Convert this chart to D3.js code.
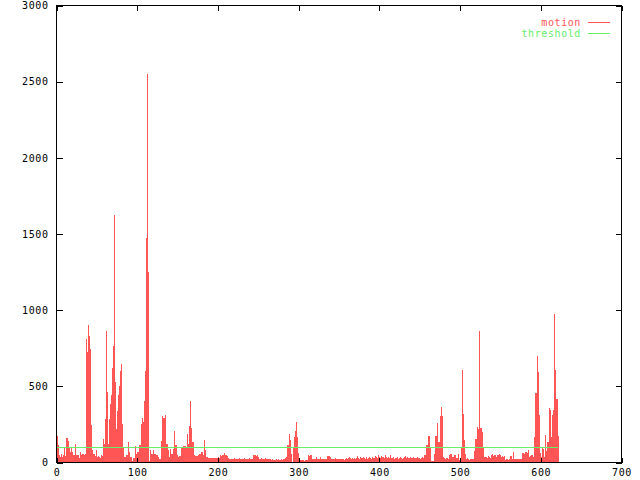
<!DOCTYPE html>
<html>
<head>
<meta charset="utf-8">
<script src="https://cdn.jsdelivr.net/npm/d3@7"></script>
<style>
  body { margin: 0; background: #fff; }
  text { font-family: "DejaVu Sans Mono", monospace; font-size: 10px; letter-spacing: 0.6px; }
</style>
</head>
<body>
<div class="container"></div>
<script>
// motion value per frame (index = frame number)
let motion = [
  175, 172, 112, 48, 36, 57, 40, 35, 46, 105,
  35, 40, 158, 158, 140, 79, 100, 68, 94, 68,
  31, 46, 46, 123, 46, 46, 40, 46, 31, 68,
  46, 46, 57, 57, 52, 57, 571, 808, 725, 900,
  828, 747, 434, 243, 79, 57, 57, 45, 45, 79,
  35, 35, 40, 35, 30, 50, 45, 151, 123, 123,
  287, 863, 466, 190, 123, 287, 385, 445, 445, 620,
  762, 1628, 528, 396, 221, 341, 440, 505, 505, 600,
  644, 254, 105, 35, 35, 35, 46, 46, 68, 134,
  68, 35, 35, 13, 13, 30, 30, 107, 57, 57,
  68, 68, 118, 118, 118, 254, 293, 265, 403, 403,
  600, 1477, 2548, 1250, 13, 13, 79, 57, 57, 79,
  79, 57, 57, 46, 46, 35, 35, 24, 24, 79,
  138, 302, 293, 293, 309, 177, 123, 123, 79, 35,
  35, 90, 57, 57, 90, 210, 171, 112, 112, 46,
  35, 35, 40, 40, 100, 100, 57, 107, 107, 107,
  105, 105, 184, 123, 237, 237, 407, 228, 134, 134,
  46, 40, 40, 40, 40, 46, 46, 57, 57, 68,
  68, 46, 46, 145, 79, 35, 35, 30, 31, 28,
  31, 30, 31, 28, 30, 31, 30, 28, 31, 30,
  35, 31, 40, 46, 40, 52, 46, 57, 61, 52,
  46, 40, 28, 24, 26, 24, 24, 26, 22, 24,
  28, 24, 26, 24, 22, 24, 30, 26, 24, 22,
  26, 24, 28, 24, 22, 26, 24, 24, 28, 26,
  22, 24, 26, 24, 46, 52, 50, 40, 52, 46,
  35, 26, 24, 28, 26, 22, 26, 24, 28, 24,
  26, 22, 24, 26, 24, 17, 15, 20, 17, 13,
  18, 17, 20, 15, 17, 22, 17, 15, 20, 17,
  18, 22, 24, 30, 35, 35, 112, 112, 188, 145,
  57, 5, 5, 100, 166, 166, 210, 263, 166, 61,
  31, 31, 18, 15, 15, 18, 15, 13, 15, 18,
  15, 46, 46, 40, 46, 46, 24, 24, 26, 22,
  24, 35, 24, 24, 26, 24, 35, 35, 22, 20,
  22, 24, 26, 22, 24, 40, 40, 40, 40, 35,
  24, 24, 26, 22, 24, 28, 24, 20, 26, 24,
  22, 24, 18, 22, 26, 20, 17, 24, 22, 28,
  24, 28, 26, 35, 28, 24, 28, 22, 28, 26,
  24, 28, 40, 26, 28, 24, 35, 28, 22, 28,
  35, 30, 26, 35, 28, 24, 30, 35, 26, 30,
  24, 35, 28, 30, 40, 30, 35, 28, 46, 30,
  35, 30, 40, 35, 28, 35, 30, 52, 35, 30,
  28, 35, 30, 50, 28, 24, 30, 35, 24, 28,
  24, 30, 35, 24, 30, 28, 35, 30, 24, 28,
  35, 30, 40, 28, 35, 30, 24, 28, 35, 30,
  24, 28, 35, 30, 28, 24, 30, 35, 28, 30,
  24, 30, 28, 35, 30, 52, 52, 35, 118, 118,
  177, 177, 96, 96, 13, 13, 13, 13, 57, 171,
  171, 258, 96, 134, 134, 302, 363, 302, 302, 35,
  28, 24, 28, 30, 28, 24, 46, 46, 57, 57,
  35, 35, 52, 52, 46, 31, 31, 57, 57, 18,
  18, 105, 342, 609, 320, 145, 57, 24, 28, 22,
  24, 18, 22, 24, 18, 20, 24, 74, 151, 151,
  151, 232, 221, 528, 861, 228, 228, 199, 105, 105,
  39, 39, 35, 30, 35, 40, 35, 30, 52, 46,
  57, 40, 52, 46, 35, 35, 52, 46, 57, 52,
  40, 35, 40, 35, 40, 22, 18, 22, 20, 15,
  22, 18, 40, 40, 22, 68, 22, 20, 24, 22,
  25, 20, 22, 24, 22, 20, 22, 61, 61, 57,
  61, 66, 66, 61, 83, 35, 35, 40, 50, 50,
  35, 35, 166, 455, 455, 696, 591, 315, 315, 61,
  35, 105, 88, 88, 35, 180, 74, 35, 136, 136,
  355, 342, 166, 166, 315, 342, 972, 604, 420, 420,
  420, 177
]
let threshold = 100

let xTicks = [0, 100, 200, 300, 400, 500, 600, 700]
let yTicks = [0, 500, 1000, 1500, 2000, 2500, 3000]

let seriesNames = ['motion', 'threshold']
let seriesColors = ['#ff5555', '#66ee66']

let width = 640, height = 480
let plotLeft = 56.5, plotRight = 621.5, plotTop = 5.5, plotBottom = 462.5

let svg = d3.select('.container')
    .append('svg')
    .attr('width', width)
    .attr('height', height)

let x = d3.scaleLinear().domain([0, 700]).range([plotLeft, plotRight])
let y = d3.scaleLinear().domain([0, 3000]).range([plotBottom, plotTop])

// impulses
svg.append('g')
    .selectAll('line')
    .data(motion)
    .enter().append('line')
    .attr('x1', (d, i) => Math.round(x(i)) + 0.5)
    .attr('x2', (d, i) => Math.round(x(i)) + 0.5)
    .attr('y1', y(0))
    .attr('y2', (d) => y(d))
    .attr('stroke', seriesColors[0])
    .attr('stroke-width', 1)
    .attr('shape-rendering', 'crispEdges')

// threshold line
svg.append('line')
    .attr('x1', x(0))
    .attr('x2', x(motion.length - 1))
    .attr('y1', Math.round(y(threshold)) + 0.5)
    .attr('y2', Math.round(y(threshold)) + 0.5)
    .attr('stroke', seriesColors[1])
    .attr('stroke-width', 1)
    .attr('shape-rendering', 'crispEdges')

// border
svg.append('rect')
    .attr('x', plotLeft)
    .attr('y', plotTop)
    .attr('width', plotRight - plotLeft)
    .attr('height', plotBottom - plotTop)
    .attr('fill', 'none')
    .attr('stroke', 'black')
    .attr('shape-rendering', 'crispEdges')

// axes, ticks drawn inward and mirrored like gnuplot
let fmt = d3.format('d')
svg.append('g')
    .attr('transform', `translate(0,${plotBottom})`)
    .call(d3.axisBottom(x).tickValues(xTicks).tickFormat(fmt).tickSizeInner(-5).tickSizeOuter(0).tickPadding(6))
svg.append('g')
    .attr('transform', `translate(0,${plotTop})`)
    .call(d3.axisTop(x).tickValues(xTicks).tickSizeInner(-5).tickSizeOuter(0).tickFormat(''))
svg.append('g')
    .attr('transform', `translate(${plotLeft},0)`)
    .call(d3.axisLeft(y).tickValues(yTicks).tickFormat(fmt).tickSizeInner(-6).tickSizeOuter(0).tickPadding(8))
svg.append('g')
    .attr('transform', `translate(${plotRight},0)`)
    .call(d3.axisRight(y).tickValues(yTicks).tickSizeInner(-6).tickSizeOuter(0).tickFormat(''))

svg.selectAll('.domain').remove()
svg.selectAll('.tick line').attr('shape-rendering', 'crispEdges')
svg.selectAll('.tick text')
    .style('font-family', '"DejaVu Sans Mono", monospace')
    .style('font-size', '10px')
    .style('letter-spacing', '0.6px')
    .attr('fill', 'black')

// legend
let legend = svg.append('g')
seriesNames.forEach((name, i) => {
    let ly = 22 + i * 11
    legend.append('text')
        .attr('x', 581)
        .attr('y', ly)
        .attr('dy', '0.35em')
        .attr('text-anchor', 'end')
        .attr('fill', seriesColors[i])
        .text(name)
    legend.append('line')
        .attr('x1', 588)
        .attr('x2', 610)
        .attr('y1', ly + 0.5)
        .attr('y2', ly + 0.5)
        .attr('stroke', seriesColors[i])
        .attr('shape-rendering', 'crispEdges')
})
</script>
</body>
</html>
